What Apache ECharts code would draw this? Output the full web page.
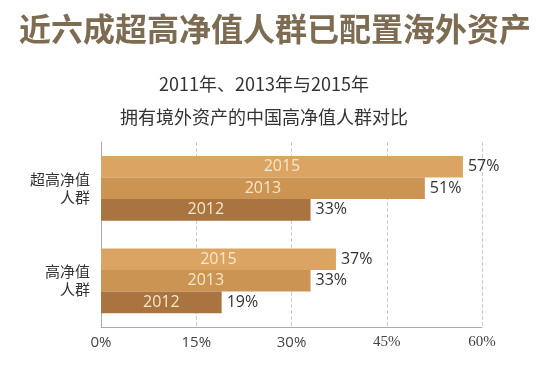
<!DOCTYPE html>
<html>
<head>
<meta charset="utf-8">
<script src="https://cdn.jsdelivr.net/npm/echarts@6/dist/echarts.min.js"></script>
<style>
  html, body { margin: 0; padding: 0; background: #fff; }
  #chart { width: 550px; height: 377px; }
</style>
</head>
<body>
<div id="chart"></div>
<script>
const categories = ['超高净值\n人群', '高净值\n人群']
const years = ['2015', '2013', '2012']
const values2015 = [57, 37]
const values2013 = [51, 33]
const values2012 = [33, 19]

const colors = ['#dca462', '#cc9453', '#a97440']
const seriesValues = [values2015, values2013, values2012]

const chart = echarts.init(document.getElementById('chart'))

const yAxisBase = {
  type: 'category',
  inverse: true,
  data: categories
}

// visible bars with the value label on the right
const barSeries = years.map((year, i) => ({
  name: year,
  type: 'bar',
  yAxisIndex: 0,
  barGap: '0%',
  barCategoryGap: '30%',
  itemStyle: { color: colors[i] },
  label: {
    show: true,
    position: 'right',
    distance: 5,
    color: '#333',
    fontSize: 16,
    fontFamily: 'Open Sans, sans-serif',
    formatter: '{c}%'
  },
  data: seriesValues[i]
}))

// transparent copies on a hidden axis, only to carry the year label
const yearSeries = years.map((year, i) => ({
  name: year + '-label',
  type: 'bar',
  yAxisIndex: 1,
  barGap: '0%',
  barCategoryGap: '30%',
  silent: true,
  itemStyle: { color: 'transparent' },
  label: {
    show: true,
    position: 'inside',
    color: '#f6e7c9',
    fontSize: 16,
    fontFamily: 'Open Sans, sans-serif',
    formatter: year
  },
  data: seriesValues[i]
}))

chart.setOption({
  animation: false,
  title: [
    {
      text: '近六成超高净值人群已配置海外资产',
      left: 'center',
      top: 8,
      textStyle: {
        color: '#7d6c52',
        fontSize: 32,
        fontWeight: 'bold',
        fontFamily: 'Noto Sans CJK SC'
      }
    },
    {
      text: '2011年、2013年与2015年\n拥有境外资产的中国高净值人群对比',
      left: 259,
      textAlign: 'center',
      top: 63,
      textStyle: {
        color: '#333',
        fontSize: 18,
        fontWeight: 'normal',
        lineHeight: 33,
        fontFamily: 'Noto Sans CJK SC'
      }
    }
  ],
  grid: {
    left: 101,
    right: 68,
    top: 142,
    bottom: 50
  },
  xAxis: {
    type: 'value',
    min: 0,
    max: 60,
    interval: 15,
    axisLine: { show: true, lineStyle: { color: '#aaa' } },
    axisTick: { show: false },
    splitLine: { show: true, lineStyle: { color: '#ccc', type: 'dashed' } },
    axisLabel: {
      margin: 8,
      color: '#444',
      fontSize: 15,
      fontFamily: 'Open Sans, sans-serif',
      formatter: function (v) {
        // the last two labels are set in a serif face in the original
        return v >= 45 ? '{s|' + v + '%}' : v + '%'
      },
      rich: {
        s: { fontFamily: 'Liberation Serif', fontSize: 15, color: '#444' }
      }
    }
  },
  yAxis: [
    Object.assign({}, yAxisBase, {
      axisLine: { show: true, lineStyle: { color: '#aaa' } },
      axisTick: { show: false },
      axisLabel: {
        margin: 11,
        color: '#333',
        fontSize: 15,
        lineHeight: 18,
        align: 'right',
        fontFamily: 'Noto Sans CJK SC'
      }
    }),
    Object.assign({}, yAxisBase, { show: false })
  ],
  series: barSeries.concat(yearSeries)
})
</script>
</body>
</html>
